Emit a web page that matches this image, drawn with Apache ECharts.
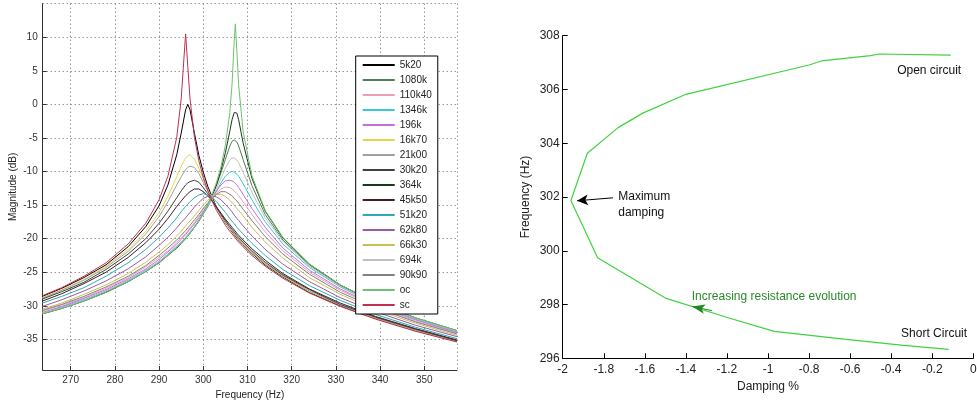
<!DOCTYPE html>
<html>
<head>
<meta charset="utf-8">
<script src="https://cdn.jsdelivr.net/npm/echarts@6.0.0/dist/echarts.min.js"></script>
<style>
html, body { margin: 0; padding: 0; background: #fff; }
#chart { width: 977px; height: 403px; }
</style>
</head>
<body>
<div id="chart"></div>
<script>
// left panel: frequency responses for each shunt resistance
var freq = [263.6, 268, 273, 278, 283, 287, 290, 292, 294, 295, 296, 296.5, 297, 298, 299, 300, 301, 302, 303, 304,
            305, 306, 306.5, 307, 307.25, 307.6, 308, 309, 311, 314, 318, 324, 331, 339, 348, 357.4];

var mag_5k20   = [-28.6, -27.4, -25.8, -23.9, -21.2, -18.2, -15.1, -12.0, -7.5, -4.3, -0.8, 0.0, -0.8, -4.3, -7.6, -10.1, -12.2, -13.8, -15.3, -16.5, -17.6, -18.5, -19.0, -19.4, -19.6, -19.9, -20.2, -20.9, -22.2, -23.9, -25.7, -28.0, -30.0, -31.9, -33.7, -35.3];
var mag_1080k  = [-31.2, -30.3, -29.2, -27.9, -26.4, -24.8, -23.5, -22.4, -21.3, -20.6, -19.9, -19.5, -19.1, -18.2, -17.3, -16.2, -15.0, -13.6, -12.0, -10.2, -8.2, -6.2, -5.5, -5.3, -5.4, -5.6, -6.2, -8.2, -12.1, -16.4, -20.2, -23.9, -27.0, -29.6, -31.9, -33.8];
var mag_110k40 = [-30.8, -29.9, -28.8, -27.4, -25.8, -24.2, -22.8, -21.8, -20.5, -19.9, -19.2, -18.8, -18.4, -17.6, -16.7, -15.8, -14.9, -14.0, -13.2, -12.6, -12.3, -12.4, -12.6, -12.9, -13.1, -13.3, -13.6, -14.5, -16.4, -19.0, -21.8, -25.0, -27.7, -30.1, -32.3, -34.1];
var mag_1346k  = [-31.1, -30.2, -29.1, -27.8, -26.2, -24.7, -23.4, -22.3, -21.1, -20.5, -19.8, -19.4, -19.0, -18.2, -17.3, -16.3, -15.3, -14.1, -12.9, -11.7, -10.7, -10.1, -10.0, -10.1, -10.2, -10.4, -10.7, -11.8, -14.2, -17.5, -20.8, -24.3, -27.2, -29.8, -32.0, -33.9];
var mag_196k   = [-31.0, -30.1, -28.9, -27.6, -26.0, -24.5, -23.1, -22.0, -20.8, -20.1, -19.4, -19.0, -18.6, -17.8, -16.9, -16.0, -15.0, -13.9, -12.9, -12.0, -11.4, -11.3, -11.4, -11.6, -11.8, -12.0, -12.4, -13.4, -15.5, -18.3, -21.4, -24.7, -27.5, -30.0, -32.1, -34.0];
var mag_16k70  = [-28.8, -27.6, -26.1, -24.1, -21.6, -18.9, -16.1, -13.7, -10.8, -9.2, -8.0, -7.6, -7.5, -8.2, -9.5, -11.1, -12.7, -14.1, -15.4, -16.5, -17.5, -18.5, -18.9, -19.3, -19.5, -19.8, -20.1, -20.8, -22.1, -23.8, -25.6, -27.9, -29.9, -31.9, -33.7, -35.3];
var mag_21k00  = [-28.9, -27.7, -26.2, -24.3, -21.9, -19.3, -16.7, -14.5, -12.0, -10.8, -9.7, -9.4, -9.2, -9.4, -10.3, -11.6, -12.9, -14.2, -15.3, -16.4, -17.4, -18.4, -18.8, -19.2, -19.4, -19.7, -20.0, -20.7, -22.0, -23.7, -25.5, -27.8, -29.9, -31.8, -33.6, -35.2];
var mag_30k20  = [-29.0, -27.9, -26.5, -24.6, -22.3, -20.0, -17.7, -15.9, -13.9, -12.9, -12.0, -11.7, -11.5, -11.3, -11.6, -12.4, -13.3, -14.3, -15.4, -16.4, -17.3, -18.2, -18.6, -19.0, -19.2, -19.5, -19.8, -20.5, -21.8, -23.5, -25.4, -27.6, -29.8, -31.7, -33.5, -35.2];
var mag_364k   = [-31.2, -30.4, -29.3, -28.0, -26.4, -24.9, -23.6, -22.5, -21.4, -20.7, -20.0, -19.6, -19.2, -18.3, -17.4, -16.3, -15.1, -13.6, -12.0, -9.8, -7.2, -4.0, -2.3, -1.2, -1.0, -1.3, -2.3, -5.7, -11.0, -15.9, -19.9, -23.8, -26.9, -29.5, -31.8, -33.7];
var mag_45k50  = [-29.3, -28.2, -26.7, -25.0, -22.8, -20.6, -18.6, -17.0, -15.2, -14.4, -13.6, -13.3, -13.0, -12.6, -12.6, -13.0, -13.6, -14.4, -15.3, -16.2, -17.1, -17.9, -18.3, -18.7, -18.9, -19.2, -19.5, -20.2, -21.5, -23.2, -25.2, -27.5, -29.6, -31.6, -33.4, -35.1];
var mag_51k20  = [-29.6, -28.6, -27.3, -25.6, -23.6, -21.6, -19.8, -18.4, -16.9, -16.0, -15.2, -14.9, -14.5, -13.9, -13.5, -13.3, -13.5, -13.9, -14.5, -15.3, -16.1, -17.0, -17.4, -17.8, -18.0, -18.3, -18.6, -19.3, -20.7, -22.5, -24.6, -27.0, -29.2, -31.3, -33.2, -34.9];
var mag_62k80  = [-30.1, -29.1, -27.8, -26.3, -24.5, -22.7, -21.0, -19.8, -18.4, -17.6, -16.9, -16.5, -16.1, -15.3, -14.6, -14.0, -13.7, -13.6, -13.8, -14.2, -14.9, -15.6, -16.0, -16.5, -16.7, -17.0, -17.3, -18.1, -19.6, -21.6, -23.8, -26.4, -28.8, -30.9, -32.9, -34.6];
var mag_66k30  = [-30.5, -29.6, -28.3, -26.9, -25.2, -23.5, -22.0, -20.9, -19.6, -18.9, -18.1, -17.7, -17.4, -16.6, -15.8, -15.0, -14.3, -13.7, -13.4, -13.4, -13.7, -14.3, -14.6, -15.0, -15.2, -15.5, -15.8, -16.6, -18.3, -20.5, -22.9, -25.8, -28.3, -30.6, -32.6, -34.4];
var mag_694k   = [-31.1, -30.3, -29.2, -27.8, -26.3, -24.8, -23.4, -22.4, -21.2, -20.6, -19.8, -19.5, -19.1, -18.2, -17.3, -16.3, -15.1, -13.9, -12.5, -11.0, -9.5, -8.3, -8.0, -8.0, -8.1, -8.3, -8.7, -10.1, -13.1, -16.9, -20.4, -24.1, -27.1, -29.7, -31.9, -33.8];
var mag_90k90  = [-30.7, -29.8, -28.6, -27.2, -25.6, -24.0, -22.5, -21.4, -20.2, -19.5, -18.8, -18.4, -18.0, -17.2, -16.4, -15.5, -14.7, -14.0, -13.4, -13.0, -13.0, -13.4, -13.6, -14.0, -14.1, -14.4, -14.7, -15.6, -17.3, -19.7, -22.3, -25.3, -28.0, -30.3, -32.4, -34.2];
var mag_oc     = [-31.2, -30.4, -29.3, -28.0, -26.4, -24.9, -23.6, -22.5, -21.3, -20.6, -20.0, -19.6, -19.2, -18.3, -17.3, -16.2, -14.9, -13.4, -11.6, -9.3, -6.1, -1.2, 2.9, 9.5, 12.0, 7.9, 2.9, -4.0, -10.6, -15.8, -19.8, -23.8, -26.9, -29.5, -31.8, -33.7];
var mag_sc     = [-28.5, -27.3, -25.6, -23.6, -20.8, -17.7, -14.2, -10.7, -4.9, 0.8, 10.5, 5.6, 0.8, -4.9, -8.4, -10.9, -12.8, -14.4, -15.8, -16.9, -18.0, -18.9, -19.3, -19.7, -19.9, -20.2, -20.5, -21.2, -22.5, -24.1, -25.9, -28.1, -30.1, -32.0, -33.8, -35.4];

var curveNames = ['5k20', '1080k', '110k40', '1346k', '196k', '16k70', '21k00', '30k20', '364k',
                  '45k50', '51k20', '62k80', '66k30', '694k', '90k90', 'oc', 'sc'];
var curveData = [mag_5k20, mag_1080k, mag_110k40, mag_1346k, mag_196k, mag_16k70, mag_21k00, mag_30k20, mag_364k,
                 mag_45k50, mag_51k20, mag_62k80, mag_66k30, mag_694k, mag_90k90, mag_oc, mag_sc];
var curveColors = ['#000000', '#4f7f4f', '#e8a0b8', '#38c8d8', '#c070e0', '#e0d850', '#a0a0a0', '#404040', '#1a3a1a',
                   '#3a2020', '#30a8b8', '#9a5aa8', '#c8c050', '#c0c0c0', '#808080', '#70c070', '#c03050'];

// right panel: damping vs frequency, from short circuit to open circuit
var damping  = [-0.12, -0.34, -0.63, -0.97, -1.19, -1.50, -1.83, -1.96, -1.88, -1.73, -1.61, -1.40, -0.80, -0.74, -0.50, -0.46, -0.11];
var resFreq  = [296.33, 296.48, 296.71, 297.0, 297.5, 298.24, 299.74, 301.87, 303.63, 304.58, 305.12, 305.82, 306.91, 307.06, 307.26, 307.32, 307.28];

var font = 'Liberation Sans, Arial, Helvetica, sans-serif';
var chart = echarts.init(document.getElementById('chart'));

var series = curveNames.map(function (name, k) {
    return {
        name: name,
        type: 'line',
        xAxisIndex: 0,
        yAxisIndex: 0,
        symbol: 'none',
        color: curveColors[k],
        lineStyle: { width: 1, color: curveColors[k] },
        data: freq.map(function (f, i) { return [f, curveData[k][i]]; })
    };
});

series.push({
    name: 'damping',
    type: 'line',
    xAxisIndex: 1,
    yAxisIndex: 1,
    symbol: 'none',
    lineStyle: { width: 1.2, color: '#3fd33f' },
    data: damping.map(function (d, i) { return [d, resFreq[i]]; }),
    markPoint: {
        symbol: 'circle',
        symbolSize: 1,
        silent: true,
        itemStyle: { color: 'rgba(0,0,0,0)' },
        label: { show: true, fontSize: 12, color: '#111', fontFamily: font },
        data: [
            { coord: [-0.215, 306.70], label: { formatter: 'Open circuit', position: 'inside' } },
            { coord: [-0.191, 296.90], label: { formatter: 'Short Circuit', position: 'inside' } },
            { coord: [-0.970, 298.30], label: { formatter: 'Increasing resistance evolution', position: 'inside', color: '#2a8a2a' } },
            { coord: [-1.732, 301.72], label: { formatter: 'Maximum\ndamping', position: 'right', distance: 0, lineHeight: 16, align: 'left' } }
        ]
    },
    markLine: {
        silent: true,
        animation: false,
        label: { show: false },
        data: [
            [{ coord: [-1.755, 301.97], symbol: 'none', lineStyle: { color: '#000', width: 1, type: 'solid' } },
             { coord: [-1.930, 301.86], symbol: 'arrow', symbolSize: [8, 11] }],
            [{ coord: [-1.272, 297.77], symbol: 'none', lineStyle: { color: '#1e8a1e', width: 1, type: 'solid' } },
             { coord: [-1.370, 297.93], symbol: 'arrow', symbolSize: [7, 13] }]
        ]
    }
});

var option = {
    animation: false,
    textStyle: { fontFamily: font },
    grid: [
        { left: 42.7, top: 3.7, width: 414.3, height: 366.3, outerBoundsMode: 'none' },
        { left: 562.7, top: 35.7, width: 410.6, height: 322.6, outerBoundsMode: 'none' }
    ],
    legend: {
        data: curveNames,
        orient: 'vertical',
        left: 355.7,
        top: 56,
        itemWidth: 32,
        itemHeight: 12,
        itemGap: 3,
        padding: [3, 6, 3, 6],
        backgroundColor: '#fff',
        borderColor: '#000',
        borderWidth: 1,
        borderRadius: 0,
        selectedMode: false,
        itemStyle: { opacity: 0, borderWidth: 0 },
        textStyle: { fontSize: 10, color: '#222', lineHeight: 12, fontFamily: font }
    },
    xAxis: [
        {
            gridIndex: 0, type: 'value', min: 263.67, max: 357.4, splitNumber: 9,
            name: 'Frequency (Hz)', nameLocation: 'middle', nameGap: 17,
            nameTextStyle: { fontSize: 10, color: '#222' },
            axisLine: { show: true, onZero: false, lineStyle: { color: '#333' } },
            axisTick: { show: true, inside: true, length: 4, lineStyle: { color: '#333' } },
            axisLabel: { fontSize: 10, color: '#333', margin: 5, showMinLabel: false, showMaxLabel: false },
            splitLine: { show: true, lineStyle: { color: '#666', type: [1, 3] } }
        },
        {
            gridIndex: 1, type: 'value', min: -2, max: 0, interval: 0.2,
            name: 'Damping %', nameLocation: 'middle', nameGap: 20,
            nameTextStyle: { fontSize: 12, color: '#222' },
            axisLine: { show: true, onZero: false, lineStyle: { color: '#000' } },
            axisTick: { show: true, inside: true, length: 5, lineStyle: { color: '#000' } },
            axisLabel: { fontSize: 12, color: '#222', margin: 5 },
            splitLine: { show: false }
        }
    ],
    yAxis: [
        {
            gridIndex: 0, type: 'value', min: -39.57, max: 15, splitNumber: 11,
            name: 'Magnitude (dB)', nameLocation: 'middle', nameGap: 24,
            nameTextStyle: { fontSize: 10, color: '#222' },
            axisLine: { show: true, onZero: false, lineStyle: { color: '#333' } },
            axisTick: { show: true, inside: true, length: 4, lineStyle: { color: '#333' } },
            axisLabel: { fontSize: 10, color: '#333', margin: 5, showMinLabel: false, showMaxLabel: false },
            splitLine: { show: true, lineStyle: { color: '#666', type: [1, 3] } }
        },
        {
            gridIndex: 1, type: 'value', min: 296, max: 308, interval: 2,
            name: 'Frequency (Hz)', nameLocation: 'middle', nameGap: 31,
            nameTextStyle: { fontSize: 12, color: '#222' },
            axisLine: { show: true, onZero: false, lineStyle: { color: '#000' } },
            axisTick: { show: true, inside: true, length: 5, lineStyle: { color: '#000' } },
            axisLabel: { fontSize: 12, color: '#222', margin: 3 },
            splitLine: { show: false }
        }
    ],
    series: series
};

chart.setOption(option);
</script>
</body>
</html>
